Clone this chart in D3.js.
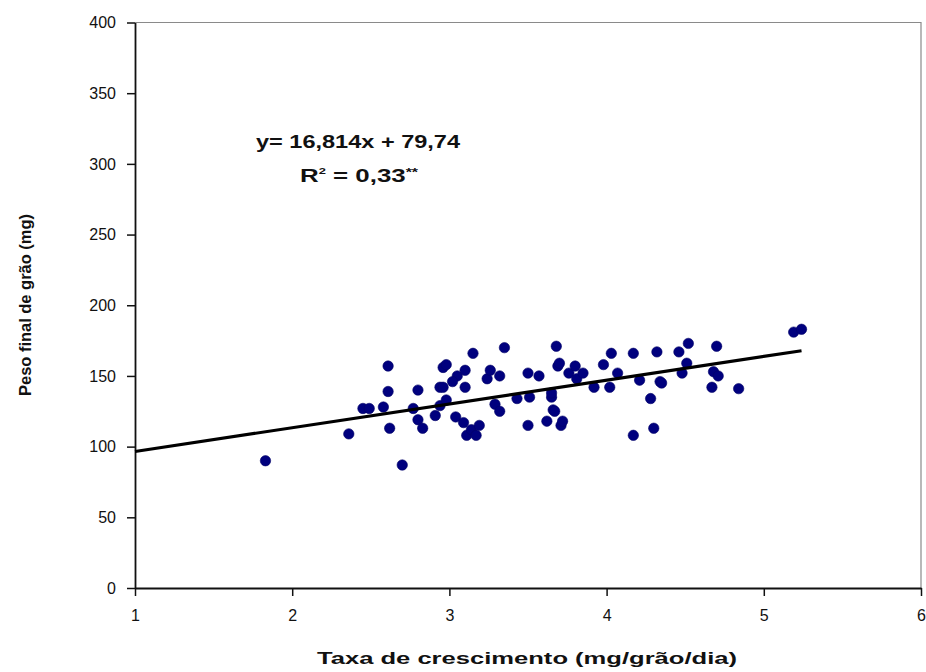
<!DOCTYPE html>
<html>
<head>
<meta charset="utf-8">
<script src="https://cdn.jsdelivr.net/npm/d3@7"></script>
<style>
  html, body { margin: 0; padding: 0; background: #fff; }
  svg { display: block; font-family: "Liberation Sans", Arial, sans-serif; }
</style>
</head>
<body>
<svg id="chart" width="926" height="672"></svg>
<script>
// Growth rate (mg/grain/day) of each sampled grain
const growthRate = [
  1.83, 2.36, 2.45, 2.49, 2.58, 2.61, 2.61, 2.62, 2.70, 2.77,
  2.80, 2.80, 2.83, 2.91, 2.94, 2.94, 2.96, 2.96, 2.98, 2.98,
  3.04, 3.05, 3.09, 3.10, 3.10, 3.11, 3.14, 3.15, 3.17, 3.19,
  3.24, 3.26, 3.29, 3.32, 3.32, 3.35, 3.43, 3.50, 3.50, 3.51,
  3.57, 3.62, 3.65, 3.65, 3.66, 3.67, 3.68, 3.69, 3.70, 3.71,
  3.72, 3.76, 3.80, 3.81, 3.85, 3.92, 3.98, 4.02, 4.03, 4.07,
  4.17, 4.17, 4.21, 4.28, 4.30, 4.32, 4.34, 4.35, 4.46, 4.48,
  4.51, 4.52, 4.67, 4.68, 4.70, 4.71, 4.84, 5.19, 5.24, 3.02
];
// Final grain weight (mg) for the same grains
const grainWeight = [
  90, 109, 127, 127, 128, 157, 139, 113, 87, 127,
  140, 119, 113, 122, 142, 129, 156, 142, 158, 133,
  121, 150, 117, 154, 142, 108, 112, 166, 108, 115,
  148, 154, 130, 150, 125, 170, 134, 152, 115, 135,
  150, 118, 135, 138, 126, 125, 171, 157, 159, 115,
  118, 152, 157, 148, 152, 142, 158, 142, 166, 152,
  166, 108, 147, 134, 113, 167, 146, 145, 167, 152,
  159, 173, 142, 153, 171, 150, 141, 181, 183, 146
];

const xTicks = [1, 2, 3, 4, 5, 6];
const yTicks = [0, 50, 100, 150, 200, 250, 300, 350, 400];

// Fitted regression: y = 16,814x + 79,74
const slope = 16.814;
const intercept = 79.74;
const fitRange = [1, 5.24];
const equationText = "y= 16,814x + 79,74";
const r2Text = "0,33";

const svg = d3.select("#chart");
const x = d3.scaleLinear().domain([1, 6]).range([135, 921]);
const y = d3.scaleLinear().domain([0, 400]).range([588, 22.5]);

// Thin grey frame on the top and right of the plot area
svg.append("path")
  .attr("d", `M${x(1)},${y(400)}H${x(6)}V${y(0)}`)
  .attr("fill", "none")
  .attr("stroke", "#8a8a8a")
  .attr("stroke-width", 1.2);

// Axes
const yAxis = svg.append("g")
  .attr("transform", `translate(${x(1)},0)`)
  .call(d3.axisLeft(y).tickValues(yTicks).tickFormat(d3.format("d"))
    .tickSize(8).tickPadding(11).tickSizeOuter(0));
const xAxis = svg.append("g")
  .attr("transform", `translate(0,${y(0)})`)
  .call(d3.axisBottom(x).tickValues(xTicks).tickFormat(d3.format("d"))
    .tickSize(8).tickPadding(14).tickSizeOuter(0));

[yAxis, xAxis].forEach(g => {
  g.attr("font-size", null).attr("font-family", null);
  g.select(".domain").attr("stroke", "#111").attr("stroke-width", 1.8);
  g.selectAll(".tick line").attr("stroke", "#111").attr("stroke-width", 1.5);
  g.selectAll(".tick text")
    .attr("fill", "#111")
    .style("font-size", "16px");
});

// Data points
svg.append("g")
  .selectAll("circle")
  .data(growthRate.map((v, i) => [v, grainWeight[i]]))
  .join("circle")
  .attr("cx", d => x(d[0]))
  .attr("cy", d => y(d[1]))
  .attr("r", 5.2)
  .attr("fill", "#00007e")
  .attr("stroke", "#000066")
  .attr("stroke-width", 0.6);

// Regression line
svg.append("line")
  .attr("x1", x(fitRange[0]))
  .attr("y1", y(slope * fitRange[0] + intercept))
  .attr("x2", x(fitRange[1]))
  .attr("y2", y(slope * fitRange[1] + intercept))
  .attr("stroke", "#000")
  .attr("stroke-width", 3.2);

// Equation and coefficient of determination
svg.append("text")
  .attr("x", 256).attr("y", 148)
  .attr("textLength", 204).attr("lengthAdjust", "spacingAndGlyphs")
  .style("font-size", "18px").style("font-weight", "bold")
  .attr("fill", "#111")
  .text(equationText);

const r2 = svg.append("text")
  .attr("x", 300).attr("y", 182)
  .attr("textLength", 118).attr("lengthAdjust", "spacingAndGlyphs")
  .style("font-size", "18px").style("font-weight", "bold")
  .attr("fill", "#111");
r2.append("tspan").text("R");
r2.append("tspan").attr("dy", -8).style("font-size", "9px").text("2");
r2.append("tspan").attr("dy", 8).text(" = " + r2Text);
r2.append("tspan").attr("dy", -6).style("font-size", "11px").text("**");

// Axis titles
svg.append("text")
  .attr("x", 527).attr("y", 664)
  .attr("text-anchor", "middle")
  .attr("textLength", 420).attr("lengthAdjust", "spacingAndGlyphs")
  .style("font-size", "17px").style("font-weight", "bold")
  .attr("fill", "#111")
  .text("Taxa de crescimento (mg/grão/dia)");

svg.append("text")
  .attr("transform", "translate(31,305) rotate(-90)")
  .attr("text-anchor", "middle")
  .attr("textLength", 182).attr("lengthAdjust", "spacingAndGlyphs")
  .style("font-size", "17px").style("font-weight", "bold")
  .attr("fill", "#111")
  .text("Peso final de grão (mg)");
</script>
</body>
</html>
